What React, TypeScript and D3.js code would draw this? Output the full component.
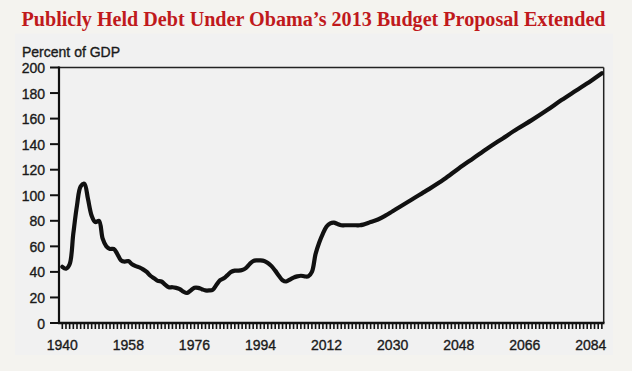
import React from "react";
import * as d3 from "d3";

// debt held by the public, percent of GDP (historical + projection)
const years = [
  1940, 1941, 1942, 1943, 1944, 1945, 1946, 1947, 1948, 1949, 1950, 1951, 1952, 1953, 1954,
  1955, 1956, 1957, 1958, 1959, 1960, 1961, 1962, 1963, 1964, 1965, 1966, 1967, 1968, 1969,
  1970, 1971, 1972, 1973, 1974, 1975, 1976, 1977, 1978, 1979, 1980, 1981, 1982, 1983, 1984,
  1985, 1986, 1987, 1988, 1989, 1990, 1991, 1992, 1993, 1994, 1995, 1996, 1997, 1998, 1999,
  2000, 2001, 2002, 2003, 2004, 2005, 2006, 2007, 2008, 2009, 2010, 2011, 2012, 2013, 2014,
  2015, 2016, 2017, 2018, 2019, 2020, 2021, 2022, 2024, 2026, 2028, 2030, 2032, 2034, 2036,
  2038, 2040, 2044, 2048, 2052, 2056, 2060, 2064, 2068, 2072, 2076, 2080, 2084, 2087,
];
const debt = [
  44, 42.5, 46, 70, 92, 107, 109, 97, 84, 79, 80, 66, 60, 58, 58,
  54, 49, 48, 48.5, 46, 44.5, 43.5, 42, 40, 37, 35, 33, 32.5, 30, 28,
  28, 27.5, 26.5, 24.5, 23.5, 25.5, 27.5, 27.5, 26.5, 25.5, 25.5, 26, 30, 33.5, 35,
  37.5, 40, 41, 41, 41.5, 43, 46, 48.5, 49, 49, 48.5, 47, 44.5, 41, 37,
  33.5, 32.5, 34, 35.5, 36.5, 37, 36.5, 36.5, 40, 54, 63, 70, 75.5, 78, 78.5,
  77.5, 76.5, 76.5, 76.5, 76.5, 76.5, 76.5, 77, 79, 81, 84, 87.5, 91, 94.5, 98,
  101.5, 105, 112.5, 121, 129, 137, 144.5, 152, 159, 166.5, 174.5, 182, 189.5, 195.5,
];
const yTicks = [0, 20, 40, 60, 80, 100, 120, 140, 160, 180, 200];
const xLabels = [1940, 1958, 1976, 1994, 2012, 2030, 2048, 2066, 2084];

const W = 632;
const H = 371;
const left = 59;
const right = 603.7;
const top = 67.5;
const bottom = 323;
const font = "'Liberation Sans', Arial, sans-serif";
const ink = "#1a1a1a";

export default function App() {
  const x = d3.scaleLinear().domain([1939.1, 2087.5]).range([left, right]);
  const y = d3.scaleLinear().domain([0, 200]).range([bottom, top]);
  const pts = years.map((yr, i) => [yr, debt[i]] as [number, number]);
  const line = d3
    .line<[number, number]>()
    .x((d) => x(d[0]))
    .y((d) => y(d[1]))
    .curve(d3.curveCatmullRom.alpha(0.5));
  const minor = d3.range(1940, 2088);

  // slightly heavier than regular, like the source's Helvetica
  const label = { fontFamily: font, fontSize: 14, fill: ink, stroke: ink, strokeWidth: 0.35 };

  return (
    <div style={{ position: "absolute", left: 0, top: 0 }}>
      <svg width={W} height={H} style={{ display: "block" }}>
        <rect x={0} y={0} width={W} height={H} fill="#f4f3ef" />
        <rect x={15} y={33.5} width={598} height={321.5} fill="#f1f1f1" />
        <text
          x={21.5}
          y={26}
          fill="#c0191c"
          fontFamily="'Liberation Serif', 'Times New Roman', serif"
          fontWeight="bold"
          fontSize={20}
          textLength={584}
          lengthAdjust="spacingAndGlyphs"
        >
          Publicly Held Debt Under Obama’s 2013 Budget Proposal Extended
        </text>
        <text x={22} y={56.5} {...label}>
          Percent of GDP
        </text>

        {/* frame */}
        <line x1={left} x2={right} y1={top} y2={top} stroke="#222" strokeWidth={1.5} />
        <line x1={right} x2={right} y1={top} y2={bottom} stroke="#222" strokeWidth={1.5} />

        {/* y axis */}
        {yTicks.map((t) => (
          <g key={t}>
            <line x1={50} x2={left} y1={y(t)} y2={y(t)} stroke="#111" strokeWidth={2} />
            <text x={45} y={y(t) + 5.5} textAnchor="end" {...label}>
              {t}
            </text>
          </g>
        ))}
        <line x1={left} x2={left} y1={top - 1} y2={bottom + 1} stroke="#111" strokeWidth={2.2} />

        {/* x axis with a tick every year */}
        {minor.map((yr) => (
          <line
            key={yr}
            x1={x(yr)}
            x2={x(yr)}
            y1={bottom}
            y2={bottom + 6}
            stroke="#111"
            strokeWidth={1.6}
          />
        ))}
        <line x1={left - 1} x2={right + 0.75} y1={bottom} y2={bottom} stroke="#111" strokeWidth={2.5} />
        {xLabels.map((t) => (
          <text key={t} x={x(t)} y={350} textAnchor="middle" {...label}>
            {t}
          </text>
        ))}

        <path
          d={line(pts) ?? ""}
          fill="none"
          stroke="#111"
          strokeWidth={4.2}
          strokeLinejoin="round"
          strokeLinecap="round"
        />
      </svg>
    </div>
  );
}
